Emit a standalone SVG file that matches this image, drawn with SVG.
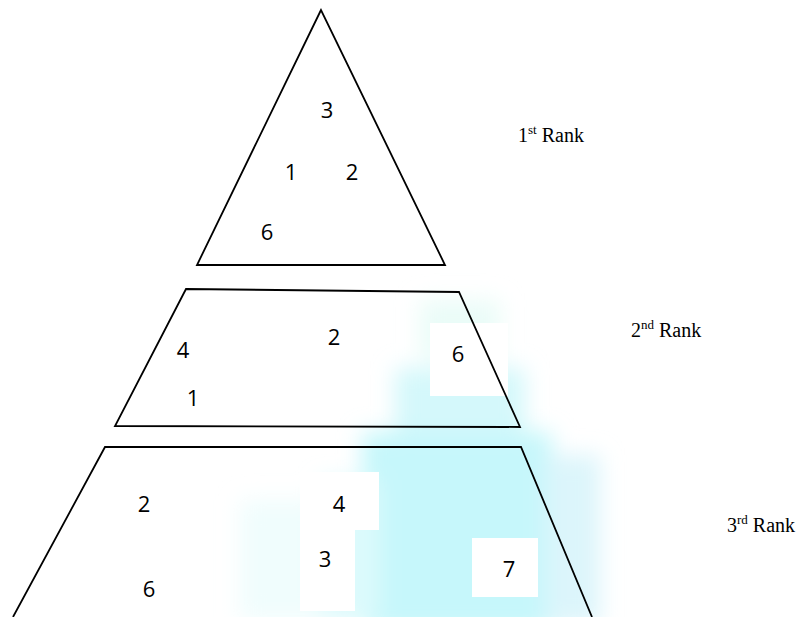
<svg xmlns="http://www.w3.org/2000/svg" width="801" height="617" viewBox="0 0 801 617">
<defs>
<filter id="blur" x="-30%" y="-30%" width="160%" height="160%"><feGaussianBlur stdDeviation="11"/></filter>
<style>
.shape{fill:none;stroke:#000;stroke-width:1.8;stroke-linejoin:miter}
.num{font-family:"Open Sans","Noto Sans",sans-serif;font-size:22px;fill:#000;text-anchor:middle}
.rank{font-family:"Liberation Serif",serif;font-size:20px;fill:#000}
.box{fill:#fff}
</style>
</defs>
<rect width="801" height="617" fill="#fff"/>
<g id="background" filter="url(#blur)">
<rect x="362" y="432" width="190" height="200" fill="#c6f7fb"/>
<rect x="395" y="368" width="130" height="66" fill="#d4f8fb"/>
<rect x="420" y="300" width="80" height="60" fill="#eafcf8"/>
<rect x="320" y="480" width="60" height="140" fill="#dcfafc"/>
<rect x="240" y="500" width="80" height="120" fill="#f0fdfd"/>
<rect x="545" y="455" width="55" height="170" fill="#dcf5fb"/>
</g>
<g id="boxes">
<rect class="box" x="430" y="323" width="78" height="73"/>
<rect class="box" x="300" y="472" width="79" height="58"/>
<rect class="box" x="300" y="529" width="55" height="82"/>
<rect class="box" x="472" y="538" width="66" height="59"/>
</g>
<g id="rank1">
<polygon class="shape" points="321,10 197,265 445,265"/>
<text class="num" x="327" y="118">3</text>
<text class="num" x="291" y="180">1</text>
<text class="num" x="352" y="180">2</text>
<text class="num" x="267" y="240">6</text>
</g>
<g id="rank2">
<polygon class="shape" points="186,289 459,292 520,427 115,426"/>
<text class="num" x="183" y="358">4</text>
<text class="num" x="334" y="345">2</text>
<text class="num" x="458" y="362">6</text>
<text class="num" x="193" y="406">1</text>
</g>
<g id="rank3">
<polyline class="shape" points="13,617 105,447 521,447 592,617"/>
<text class="num" x="144" y="512">2</text>
<text class="num" x="339" y="512">4</text>
<text class="num" x="325" y="567">3</text>
<text class="num" x="149" y="597">6</text>
<text class="num" x="509" y="577">7</text>
</g>
<g id="labels">
<text class="rank" x="518" y="142">1<tspan font-size="13" dy="-8">st</tspan><tspan dy="8"> Rank</tspan></text>
<text class="rank" x="631" y="337">2<tspan font-size="13" dy="-8">nd</tspan><tspan dy="8"> Rank</tspan></text>
<text class="rank" x="727" y="532">3<tspan font-size="13" dy="-8">rd</tspan><tspan dy="8"> Rank</tspan></text>
</g>
<g id="connectors"/>
</svg>
